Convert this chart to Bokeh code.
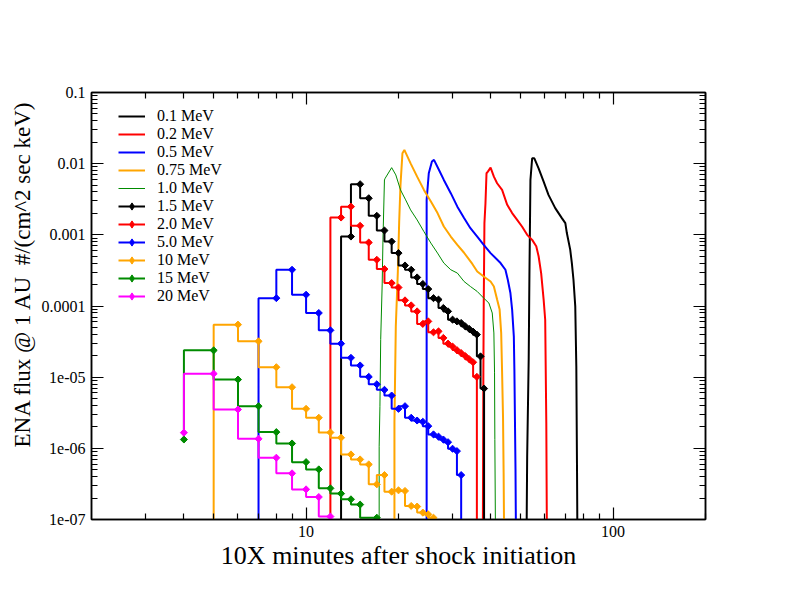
import numpy as np
from bokeh.plotting import figure
from bokeh.models import (LogAxis, CustomJSTickFormatter, Legend, LegendItem,
                          Range1d, Title, FixedTicker)
from bokeh.embed import file_html
from bokeh.resources import INLINE

OFF = 1e-8  # value lying below the plotted range

# ---- tick positions ----
x_major = [10, 100]
x_minor = [3, 4, 5, 6, 7, 8, 9, 20, 30, 40, 50, 60, 70, 80, 90, 200]
y_major = [1e-7, 1e-6, 1e-5, 1e-4, 1e-3, 1e-2, 1e-1]
y_minor = [k * 10.0 ** e for e in range(-7, -1) for k in range(2, 10)]

# ---- smooth curves (no symbols) ----
t_01 = [52.1, 52.5, 53.1, 53.4, 53.8, 54.5, 55.4, 57.2, 59.4, 61.6, 64.8, 68.1, 69.9,
        70.7, 72.5, 73.4, 74.3, 75.3, 75.9, 76.3, 76.7]
f_01 = [OFF, 7.8e-7, 1.77e-5, 2.9e-4, 5.9e-3, 1.19e-2, 1.19e-2, 8.6e-3, 5.6e-3, 3.64e-3,
        2.37e-3, 1.72e-3, 1.46e-3, 1.06e-3, 6.2e-4, 4.0e-4, 2.34e-4, 9.9e-5, 1.42e-5,
        5.1e-7, OFF]

t_02 = [37.6, 37.8, 37.9, 38.1, 38.4, 38.7, 39.1, 39.9, 40.9, 41.9, 43.5, 45.2, 46.9,
        48.7, 50.5, 52.5, 54.5, 56.2, 57.2, 58.3, 59.4, 60.1, 60.6, 61.0]
f_02 = [OFF, 1.15e-5, 9.9e-5, 1.46e-3, 2.78e-3, 7.33e-3, 7.72e-3, 8.79e-3, 6.57e-3,
        5.31e-3, 4.28e-3, 2.64e-3, 2.02e-3, 1.62e-3, 1.31e-3, 1.0e-3, 8.5e-4, 6.9e-4,
        5.0e-4, 2.9e-4, 1.23e-4, 6.4e-5, 2.3e-6, OFF]

t_05 = [24.7, 24.7, 25.1, 25.7, 26.1, 27.1, 28.1, 29.6, 31.1, 32.7, 34.3, 36.1, 37.9,
        39.9, 43.0, 44.6, 45.4, 46.3, 46.9, 47.5, 47.7, 48.1, 48.4]
f_05 = [OFF, 3.1e-3, 7.33e-3, 1.07e-2, 1.13e-2, 8.16e-3, 5.91e-3, 3.85e-3, 2.49e-3,
        1.72e-3, 1.24e-3, 9.46e-4, 7.24e-4, 5.54e-4, 4.01e-4, 3.23e-4, 2.34e-4, 1.52e-4,
        8.9e-5, 3.75e-5, 1.28e-5, 5.1e-7, OFF]

t_075 = [19.4, 19.4, 19.6, 19.9, 20.1, 20.3, 20.6, 20.9, 21.9, 23.0, 24.2, 25.5, 26.8,
         28.1, 29.6, 31.1, 32.7, 34.8, 36.1, 37.9, 39.9, 40.9, 41.9, 42.7, 43.2, 43.5,
         43.8, 44.0, 44.3]
f_075 = [OFF, 2.3e-6, 5.2e-5, 3.0e-4, 1.5e-3, 5.0e-3, 1.40e-2, 1.56e-2, 1.01e-2, 6.57e-3,
         4.28e-3, 2.93e-3, 2.02e-3, 1.31e-3, 9.46e-4, 7.24e-4, 5.6e-4, 3.9e-4, 3.06e-4,
         2.6e-4, 2.21e-4, 1.88e-4, 1.23e-4, 8.9e-5, 4.2e-5, 1.15e-5, 2.8e-6, 4.6e-7, OFF]

t_10 = [17.3, 17.3, 17.4, 17.5, 17.7, 17.8, 18.0, 18.1, 19.0, 19.6, 20.3, 21.1, 21.9,
        23.0, 24.2, 25.5, 26.8, 28.1, 29.6, 31.1, 32.7, 34.3, 36.1, 37.9, 39.4, 40.4,
        40.9, 41.1, 41.2, 41.5]
f_10 = [OFF, 1.07e-6, 3.9e-6, 3.37e-5, 2.1e-4, 8.5e-4, 5.9e-3, 6.24e-3, 8.79e-3, 6.95e-3,
        4.28e-3, 3.1e-3, 2.24e-3, 1.62e-3, 1.11e-3, 7.65e-4, 5.54e-4, 4.01e-4, 3.23e-4,
        2.9e-4, 2.21e-4, 1.88e-4, 1.6e-4, 1.29e-4, 1.1e-4, 7.98e-5, 4.18e-5, 1.15e-5,
        1.33e-6, OFF]

# ---- stepped series with symbols ----
t_15 = [13, 14, 15, 16, 17, 18, 19, 20, 21, 22, 23, 24, 25, 26, 27, 28, 29, 30, 31, 32,
        33, 34, 35, 36, 37, 38, 39]
f_15 = [OFF, 9.46e-4, 5.14e-3, 3.27e-3, 1.85e-3, 1.15e-3, 8.05e-4, 5.54e-4, 3.71e-4,
        3.23e-4, 2.52e-4, 2.04e-4, 1.73e-4, 1.29e-4, 1.23e-4, 9.38e-5, 8.40e-5, 6.43e-5,
        6.08e-5, 5.78e-5, 5.18e-5, 4.76e-5, 4.36e-5, 3.96e-5, 1.96e-5, 6.92e-6, OFF]

t_20 = [12, 13, 14, 15, 16, 17, 18, 19, 20, 21, 22, 23, 24, 25, 26, 27, 28, 29, 30, 31,
        32, 33, 34, 35, 36, 37]
f_20 = [OFF, 1.75e-3, 2.49e-3, 1.34e-3, 7.80e-4, 4.46e-4, 3.30e-4, 2.10e-4, 1.82e-4,
        1.20e-4, 1.02e-4, 8.40e-5, 5.60e-5, 6.08e-5, 4.27e-5, 4.40e-5, 3.56e-5, 2.96e-5,
        2.69e-5, 2.40e-5, 2.18e-5, 1.98e-5, 1.79e-5, 1.62e-5, 1.01e-5, OFF]

t_50 = [7, 8, 9, 10, 11, 12, 13, 14, 15, 16, 17, 18, 19, 20, 21, 22, 23, 24, 25, 26, 27,
        28, 29, 30, 31, 32, 33]
f_50 = [OFF, 1.29e-4, 3.23e-4, 1.44e-4, 7.98e-5, 4.55e-5, 2.96e-5, 1.87e-5, 1.46e-5,
        1.01e-5, 7.94e-6, 6.64e-6, 5.52e-6, 3.59e-6, 3.91e-6, 2.69e-6, 2.46e-6, 2.36e-6,
        2.05e-6, 1.57e-6, 1.46e-6, 1.33e-6, 1.22e-6, 9.87e-7, 9.14e-7, 4.21e-7, OFF]

t_100 = [5, 6, 7, 8, 9, 10, 11, 12, 13, 14, 15, 16, 17, 18, 19, 20, 21, 22, 23, 24, 25, 26]
f_100 = [OFF, 5.47e-5, 3.19e-5, 1.38e-5, 7.22e-6, 3.59e-6, 2.69e-6, 1.67e-6, 1.41e-6,
         8.21e-7, 6.98e-7, 5.94e-7, 3.12e-7, 4.21e-7, 2.46e-7, 2.57e-7, 2.52e-7, 1.55e-7,
         1.52e-7, 1.25e-7, 1.18e-7, 1.06e-7]

t_150 = [4, 5, 6, 7, 8, 9, 10, 11, 12, 13, 14, 15, 17]
f_150 = [1.33e-6, 2.38e-5, 9.25e-6, 3.91e-6, 1.69e-6, 1.17e-6, 6.40e-7, 5.06e-7, 2.74e-7,
         2.31e-7, 1.92e-7, 1.62e-7, 1.06e-7]

t_200 = [4, 5, 6, 7, 8, 9, 10, 11, 12]
f_200 = [1.66e-6, 1.12e-5, 3.51e-6, 1.36e-6, 7.38e-7, 4.45e-7, 2.65e-7, 2.07e-7, 1.10e-7]

curves = [("0.1 MeV", t_01, f_01, "#000000", 2),
          ("0.2 MeV", t_02, f_02, "#ff0000", 2),
          ("0.5 MeV", t_05, f_05, "#0000ff", 2),
          ("0.75 MeV", t_075, f_075, "#ffa500", 2),
          ("1.0 MeV", t_10, f_10, "#008b00", 1)]
steps = [("1.5 MeV", t_15, f_15, "#000000"),
         ("2.0 MeV", t_20, f_20, "#ff0000"),
         ("5.0 MeV", t_50, f_50, "#0000ff"),
         ("10 MeV", t_100, f_100, "#ffa500"),
         ("15 MeV", t_150, f_150, "#008b00"),
         ("20 MeV", t_200, f_200, "#ff00ff")]

FONT = "Liberation Serif"

p = figure(x_axis_type="log", y_axis_type="log",
           x_range=Range1d(2, 200), y_range=Range1d(1e-7, 0.1),
           frame_width=614, frame_height=427,
           min_border_left=91, min_border_right=70, min_border_top=92, min_border_bottom=76,
           output_backend="svg", toolbar_location=None,
           background_fill_color="white", border_fill_color="white")
p.grid.visible = False
p.outline_line_color = "black"
p.outline_line_width = 1.5

fmt = CustomJSTickFormatter(code="""
const e = Math.round(Math.log10(tick));
if (e >= 0) return Math.round(tick).toString();
if (e >= -4) return tick.toFixed(-e);
return "1e-" + String(-e).padStart(2, "0");
""")

x_ticker = FixedTicker(ticks=x_major, minor_ticks=x_minor)
y_ticker = FixedTicker(ticks=y_major, minor_ticks=y_minor)


def style(ax, ticker, labels=True):
    ax.ticker = ticker
    ax.major_tick_in = 12
    ax.major_tick_out = 0
    ax.minor_tick_in = 6
    ax.minor_tick_out = 0
    ax.major_tick_line_width = 1.2
    ax.minor_tick_line_width = 1.2
    ax.axis_line_width = 1.5
    ax.formatter = fmt
    if labels:
        ax.major_label_text_font = FONT
        ax.major_label_text_font_size = "16px"
        ax.major_label_text_color = "black"
        ax.major_label_standoff = 6
    else:
        ax.major_label_text_font_size = "0px"
        ax.major_label_text_alpha = 0


style(p.xaxis[0], x_ticker)
style(p.yaxis[0], y_ticker)
p.xaxis[0].axis_label = "10X minutes after shock initiation"
p.xaxis[0].axis_label_text_font = FONT
p.xaxis[0].axis_label_text_font_size = "26px"
p.xaxis[0].axis_label_text_font_style = "normal"
p.xaxis[0].axis_label_text_color = "black"
p.xaxis[0].axis_label_standoff = 1

top_ax = LogAxis()
right_ax = LogAxis()
style(top_ax, x_ticker, labels=False)
style(right_ax, y_ticker, labels=False)
p.add_layout(top_ax, "above")
p.add_layout(right_ax, "right")

ytitle = Title(text="ENA flux @ 1 AU\u00a0 #/(cm^2 sec keV)", align="left", offset=72,
               text_font=FONT, text_font_size="23px", text_font_style="normal",
               text_color="black", standoff=8)
p.add_layout(ytitle, "left")

items = []
for name, xs, ys, col, w in curves:
    r = p.line(xs, ys, line_color=col, line_width=w)
    items.append(LegendItem(label=name, renderers=[r]))
for name, xs, ys, col in steps:
    r1 = p.step(xs, ys, mode="before", line_color=col, line_width=2)
    p.scatter(xs, ys, marker="square", angle=np.pi / 4, size=5,
              fill_color=col, line_color=col, line_width=1)
    # hidden twin of the symbols, used only for the legend swatch
    r3 = p.scatter(xs, ys, marker="diamond", size=11,
                   fill_color=col, line_color=col, line_width=1, visible=False)
    items.append(LegendItem(label=name, renderers=[r1, r3]))

legend = Legend(items=items, location=(27, 214), margin=0, padding=0, spacing=0,
                glyph_width=27, glyph_height=18, label_height=18, label_standoff=12,
                label_text_font=FONT, label_text_font_size="16px",
                label_text_color="black",
                background_fill_alpha=0, border_line_color=None)
p.add_layout(legend)

open("out.html", "w").write(file_html(p, INLINE))
